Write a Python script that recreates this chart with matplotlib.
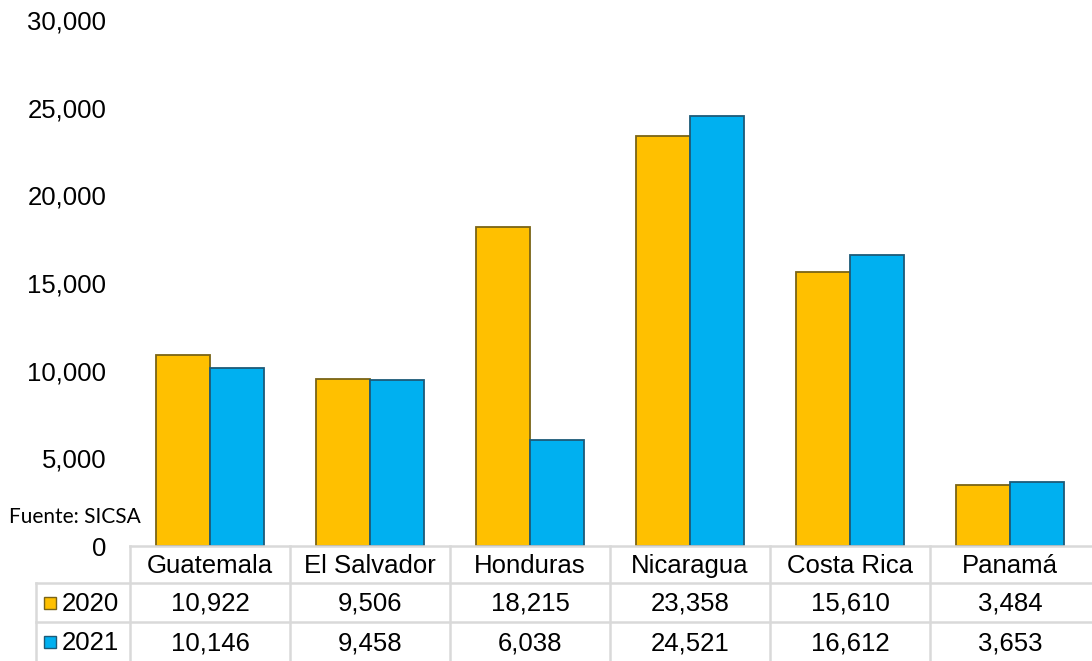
import matplotlib.pyplot as plt
from matplotlib.patches import Rectangle
from matplotlib.lines import Line2D
import numpy as np

paises = ['Guatemala', 'El Salvador', 'Honduras', 'Nicaragua', 'Costa Rica', 'Panamá']
anios = ['2020', '2021']
valores_2020 = [10922, 9506, 18215, 23358, 15610, 3484]
valores_2021 = [10146, 9458, 6038, 24521, 16612, 3653]
colores = ['#FFC000', '#00B0F0']
bordes = ['#7a6416', '#1d5a78']

W, H = 1092, 661
fig = plt.figure(figsize=(W / 100, H / 100), dpi=100)
plt.rcParams['font.family'] = ['Liberation Sans', 'DejaVu Sans']
fs = 18.5

# area of the bars, in pixels
x0, x1 = 130, 1090
y_cero, y_tope = 546, 20
ax = fig.add_axes([x0 / W, 1 - y_cero / H, (x1 - x0) / W, (y_cero - y_tope) / H])

x = np.arange(len(paises))
ancho = 0.335
series = [valores_2020, valores_2021]
for i, vals in enumerate(series):
    ax.bar(x + (i - 0.5) * ancho, vals, width=ancho, color=colores[i],
           edgecolor=bordes[i], linewidth=1.3, zorder=3)

ax.set_xlim(-0.5, len(paises) - 0.5)
ax.set_ylim(0, 30000)
ax.set_yticks(range(0, 30001, 5000))
ax.set_yticklabels([f'{v:,}' for v in range(0, 30001, 5000)], fontsize=fs)
ax.tick_params(axis='y', length=0, pad=17)
ax.set_xticks([])
for s in ax.spines.values():
    s.set_visible(False)


def fx(px):
    return px / W


def fy(py):
    return 1 - py / H


# data table under the bars
gris = '#d9d9d9'
filas = [546, 583, 622, 661]
base_texto = [573, 611, 650]
col_ancho = (x1 - x0) / len(paises)
bordes_col = [x0 + k * col_ancho for k in range(len(paises) + 1)]
lw = 1.8
fig.add_artist(Line2D([fx(x0), fx(W)], [fy(filas[0])] * 2, color=gris, lw=lw))
for yy in filas[1:3]:
    fig.add_artist(Line2D([fx(36), fx(W)], [fy(yy)] * 2, color=gris, lw=lw))
fig.add_artist(Line2D([fx(36)] * 2, [fy(filas[1]), fy(H)], color=gris, lw=lw))
for bx in bordes_col[:-1]:
    fig.add_artist(Line2D([fx(bx)] * 2, [fy(filas[0]), fy(H)], color=gris, lw=lw))

centros = [x0 + (k + 0.5) * col_ancho for k in range(len(paises))]
for cx, nombre in zip(centros, paises):
    fig.text(fx(cx), fy(base_texto[0]), nombre, ha='center', va='baseline', fontsize=fs)

for r, (anio, vals) in enumerate(zip(anios, series)):
    by = base_texto[r + 1]
    fig.add_artist(Rectangle((fx(44), fy(by - 2)), 12 / W, 12 / H, facecolor=colores[r],
                             edgecolor=bordes[r], lw=1, transform=fig.transFigure))
    fig.text(fx(62), fy(by), anio, ha='left', va='baseline', fontsize=fs)
    for cx, v in zip(centros, vals):
        fig.text(fx(cx), fy(by), f'{v:,}', ha='center', va='baseline', fontsize=fs)

fig.text(fx(9), fy(517), 'Fuente: SICSA', ha='left', va='center', fontsize=15,
         family=['Lato', 'DejaVu Sans'])

fig.savefig('out.png', dpi=100)
